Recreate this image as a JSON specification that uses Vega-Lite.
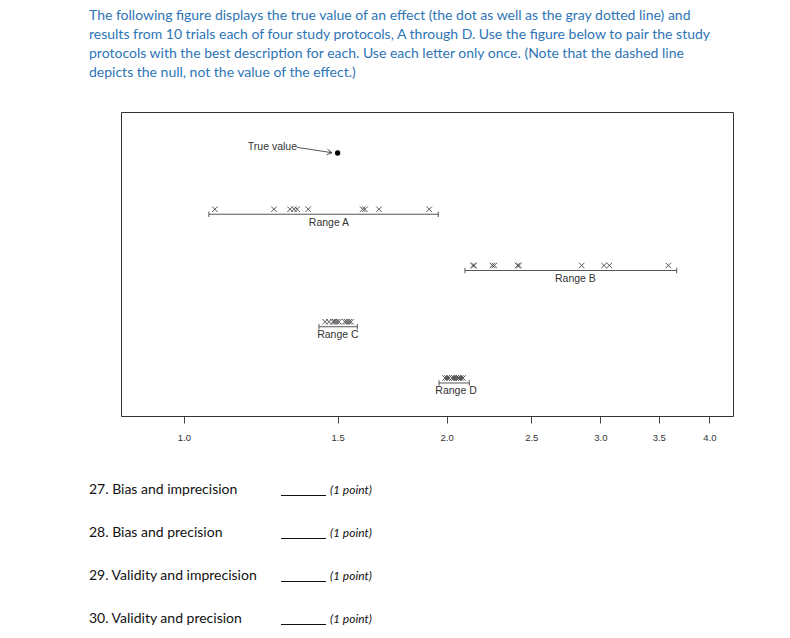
{
  "$schema": "https://vega.github.io/schema/vega-lite/v6.json",
  "background": "white",
  "padding": {"left": 89, "top": 8, "right": 10, "bottom": 5},
  "title": {
    "text": [
      "The following figure displays the true value of an effect (the dot as well as the gray dotted line) and",
      "results from 10 trials each of four study protocols, A through D. Use the figure below to pair the study",
      "protocols with the best description for each. Use each letter only once. (Note that the dashed line",
      "depicts the null, not the value of the effect.)"
    ],
    "anchor": "start",
    "frame": "bounds",
    "font": "Lato",
    "fontSize": 14,
    "fontWeight": "normal",
    "color": "#2E75B6",
    "lineHeight": 19,
    "offset": 32
  },
  "bounds": "flush",
  "spacing": 52,
  "datasets": {
    "pts": [
      {"protocol": "A", "level": 4, "x": 1.085}, {"protocol": "A", "level": 4, "x": 1.268},
      {"protocol": "A", "level": 4, "x": 1.323}, {"protocol": "A", "level": 4, "x": 1.337},
      {"protocol": "A", "level": 4, "x": 1.348}, {"protocol": "A", "level": 4, "x": 1.388},
      {"protocol": "A", "level": 4, "x": 1.602}, {"protocol": "A", "level": 4, "x": 1.612},
      {"protocol": "A", "level": 4, "x": 1.673}, {"protocol": "A", "level": 4, "x": 1.910},
      {"protocol": "B", "level": 3, "x": 2.144}, {"protocol": "B", "level": 3, "x": 2.150},
      {"protocol": "B", "level": 3, "x": 2.256}, {"protocol": "B", "level": 3, "x": 2.268},
      {"protocol": "B", "level": 3, "x": 2.412}, {"protocol": "B", "level": 3, "x": 2.420},
      {"protocol": "B", "level": 3, "x": 2.856}, {"protocol": "B", "level": 3, "x": 3.029},
      {"protocol": "B", "level": 3, "x": 3.072}, {"protocol": "B", "level": 3, "x": 3.589},
      {"protocol": "C", "level": 2, "x": 1.451}, {"protocol": "C", "level": 2, "x": 1.466},
      {"protocol": "C", "level": 2, "x": 1.482}, {"protocol": "C", "level": 2, "x": 1.489},
      {"protocol": "C", "level": 2, "x": 1.497}, {"protocol": "C", "level": 2, "x": 1.505},
      {"protocol": "C", "level": 2, "x": 1.529}, {"protocol": "C", "level": 2, "x": 1.537},
      {"protocol": "C", "level": 2, "x": 1.546}, {"protocol": "C", "level": 2, "x": 1.554},
      {"protocol": "D", "level": 1, "x": 1.991}, {"protocol": "D", "level": 1, "x": 2.002},
      {"protocol": "D", "level": 1, "x": 2.012}, {"protocol": "D", "level": 1, "x": 2.028},
      {"protocol": "D", "level": 1, "x": 2.039}, {"protocol": "D", "level": 1, "x": 2.050},
      {"protocol": "D", "level": 1, "x": 2.060}, {"protocol": "D", "level": 1, "x": 2.066},
      {"protocol": "D", "level": 1, "x": 2.077}, {"protocol": "D", "level": 1, "x": 2.088}
    ],
    "ranges": [
      {"protocol": "A", "level": 4, "lo": 1.068, "hi": 1.956, "mid": 1.466, "label": "Range A"},
      {"protocol": "B", "level": 3, "lo": 2.099, "hi": 3.669, "mid": 2.809, "label": "Range B"},
      {"protocol": "C", "level": 2, "lo": 1.428, "hi": 1.580, "mid": 1.501, "label": "Range C"},
      {"protocol": "D", "level": 1, "lo": 1.960, "hi": 2.123, "mid": 2.050, "label": "Range D"}
    ],
    "truth": [
      {"x": 1.5, "level": 5, "label": "True value", "lx": 1.263, "ly": 5.107, "ax": 1.347, "ay": 5.101, "ax2": 1.478, "ay2": 5.005}
    ],
    "questions": [
      {"num": 27, "q": "27. Bias and imprecision", "pts": "(1 point)"},
      {"num": 28, "q": "28. Bias and precision", "pts": "(1 point)"},
      {"num": 29, "q": "29. Validity and imprecision", "pts": "(1 point)"},
      {"num": 30, "q": "30. Validity and precision", "pts": "(1 point)"}
    ]
  },
  "vconcat": [
    {
      "width": 612,
      "height": 304,
      "view": {"stroke": "#333", "strokeWidth": 1},
      "layer": [
        {
          "mark": {"type": "rule", "color": "#9a9a9a", "strokeDash": [4, 3], "strokeWidth": 1.5},
          "encoding": {
            "x": {
              "datum": 1,
              "type": "quantitative",
              "scale": {"type": "log", "domain": [0.847, 4.257], "nice": false, "zero": false},
              "axis": {
                "values": [1, 1.5, 2, 2.5, 3, 3.5, 4],
                "format": ".1f",
                "title": null,
                "grid": false,
                "domain": false,
                "tickSize": 7,
                "tickColor": "#444",
                "labelFont": "Liberation Sans",
                "labelFontSize": 9.5,
                "labelColor": "#333",
                "labelPadding": 9
              }
            }
          }
        },
        {
          "mark": {"type": "rule", "color": "#d4d4d4", "strokeDash": [1.5, 1.5], "strokeWidth": 1},
          "encoding": {"x": {"datum": 1.5, "type": "quantitative"}}
        },
        {
          "data": {"name": "pts"},
          "mark": {"type": "point", "shape": "M-1,-1L1,1M-1,1L1,-1", "filled": false, "size": 30, "strokeWidth": 0.9, "color": "#444", "opacity": 1},
          "encoding": {
            "x": {"field": "x", "type": "quantitative"},
            "y": {"field": "level", "type": "quantitative", "scale": {"domain": [0.324, 5.729], "nice": false, "zero": false}, "axis": null}
          }
        },
        {
          "data": {"name": "ranges"},
          "mark": {"type": "rule", "color": "#555", "strokeWidth": 1, "yOffset": 5},
          "encoding": {
            "x": {"field": "lo", "type": "quantitative"},
            "x2": {"field": "hi"},
            "y": {"field": "level", "type": "quantitative"}
          }
        },
        {
          "data": {"name": "ranges"},
          "mark": {"type": "point", "shape": "M0,-1L0,1", "filled": false, "size": 30, "strokeWidth": 1, "color": "#555", "opacity": 1, "yOffset": 5},
          "encoding": {
            "x": {"field": "lo", "type": "quantitative"},
            "y": {"field": "level", "type": "quantitative"}
          }
        },
        {
          "data": {"name": "ranges"},
          "mark": {"type": "point", "shape": "M0,-1L0,1", "filled": false, "size": 30, "strokeWidth": 1, "color": "#555", "opacity": 1, "yOffset": 5},
          "encoding": {
            "x": {"field": "hi", "type": "quantitative"},
            "y": {"field": "level", "type": "quantitative"}
          }
        },
        {
          "data": {"name": "ranges"},
          "mark": {"type": "text", "font": "Liberation Sans", "fontSize": 10.5, "color": "#333", "dy": 13.5},
          "encoding": {
            "x": {"field": "mid", "type": "quantitative"},
            "y": {"field": "level", "type": "quantitative"},
            "text": {"field": "label"}
          }
        },
        {
          "data": {"name": "truth"},
          "mark": {"type": "point", "shape": "circle", "filled": true, "size": 28, "color": "#000", "opacity": 1},
          "encoding": {
            "x": {"field": "x", "type": "quantitative"},
            "y": {"field": "level", "type": "quantitative"}
          }
        },
        {
          "data": {"name": "truth"},
          "mark": {"type": "text", "font": "Liberation Sans", "fontSize": 10.5, "color": "#333"},
          "encoding": {
            "x": {"field": "lx", "type": "quantitative"},
            "y": {"field": "ly", "type": "quantitative"},
            "text": {"field": "label"}
          }
        },
        {
          "data": {"name": "truth"},
          "mark": {"type": "rule", "color": "#444", "strokeWidth": 0.9},
          "encoding": {
            "x": {"field": "ax", "type": "quantitative"},
            "x2": {"field": "ax2"},
            "y": {"field": "ay", "type": "quantitative"},
            "y2": {"field": "ay2"}
          }
        },
        {
          "data": {"name": "truth"},
          "mark": {"type": "point", "shape": "M-1,-0.55L0,0L-1,0.55", "filled": false, "size": 100, "strokeWidth": 0.9, "color": "#444", "opacity": 1, "angle": 9},
          "encoding": {
            "x": {"field": "ax2", "type": "quantitative"},
            "y": {"field": "ay2", "type": "quantitative"}
          }
        }
      ]
    },
    {
      "width": 300,
      "height": 172,
      "view": {"stroke": null},
      "data": {"name": "questions"},
      "encoding": {
        "y": {"field": "num", "type": "ordinal", "axis": null, "scale": {"type": "point", "padding": 0.5}}
      },
      "layer": [
        {
          "mark": {"type": "text", "align": "left", "baseline": "middle", "font": "Lato", "fontSize": 14, "color": "#111"},
          "encoding": {
            "x": {"datum": "question", "type": "nominal", "scale": {"type": "point", "domain": ["question", "answer"], "range": [-32, 160], "padding": 0}, "axis": null},
            "text": {"field": "q"}
          }
        },
        {
          "mark": {"type": "point", "shape": "M0,0L2,0", "filled": false, "size": 2025, "strokeWidth": 1, "color": "#111", "opacity": 1, "yOffset": 6},
          "encoding": {
            "x": {"datum": "answer", "type": "nominal"}
          }
        },
        {
          "mark": {"type": "text", "align": "left", "baseline": "middle", "font": "Lato", "fontSize": 12, "fontStyle": "italic", "color": "#111", "dx": 49},
          "encoding": {
            "x": {"datum": "answer", "type": "nominal"},
            "text": {"field": "pts"}
          }
        }
      ]
    }
  ]
}
